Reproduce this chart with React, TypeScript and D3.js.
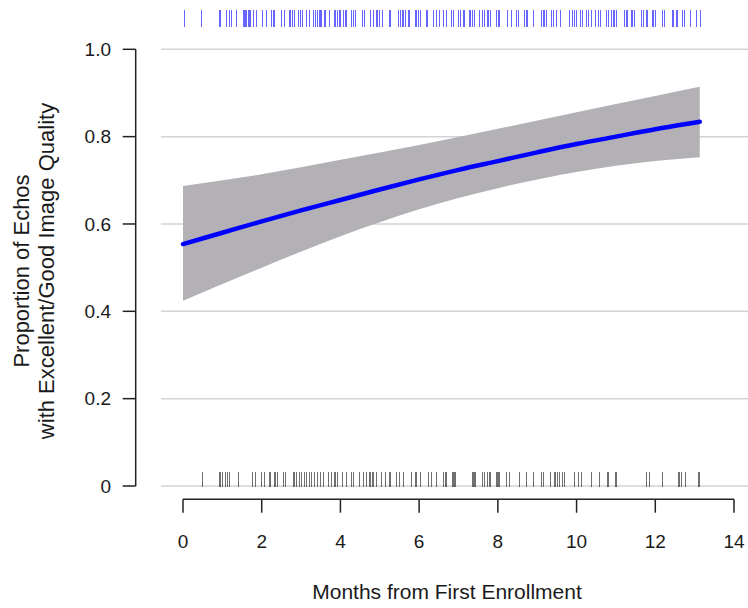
import React from 'react';
import * as d3 from 'd3';

// fitted proportion
const fitMonths = [0, 1, 2, 3, 4, 5, 6, 7, 8, 9, 10, 11, 12, 13.13];
const fitValues = [0.554, 0.58, 0.606, 0.631, 0.655, 0.679, 0.702, 0.724, 0.744, 0.764, 0.783, 0.8, 0.817, 0.834];

// confidence band
const bandMonths = [0, 2, 4, 6, 8, 10, 12, 13.13];
const bandUpper = [0.687, 0.714, 0.747, 0.781, 0.818, 0.856, 0.893, 0.914];
const bandLower = [0.424, 0.5, 0.572, 0.634, 0.682, 0.719, 0.744, 0.753];

// rug: echos with excellent/good quality (top) and not (bottom)
const goodMonths = [
  0.03, 0.46, 0.94, 1.11, 1.18, 1.24, 1.36, 1.55, 1.6, 1.66, 1.7, 1.79, 1.87, 2.02, 2.13, 2.25, 2.31,
  2.51, 2.57, 2.72, 2.79, 2.84, 2.93, 2.99, 3.04, 3.14, 3.21, 3.31, 3.37, 3.42, 3.48, 3.52, 3.61, 3.72,
  3.86, 3.92, 3.99, 4.07, 4.14, 4.28, 4.34, 4.39, 4.56, 4.62, 4.77, 4.85, 4.93, 5.0, 5.07, 5.26, 5.47,
  5.53, 5.59, 5.66, 5.72, 5.76, 5.92, 5.98, 6.04, 6.2, 6.37, 6.44, 6.51, 6.61, 6.7, 6.82, 6.88, 6.99,
  7.05, 7.14, 7.29, 7.36, 7.4, 7.54, 7.61, 7.67, 7.75, 7.81, 7.97, 8.03, 8.24, 8.35, 8.47, 8.52, 8.68,
  8.74, 8.9, 9.11, 9.17, 9.23, 9.36, 9.42, 9.49, 9.59, 9.83, 9.9, 9.95, 10.0, 10.1, 10.16, 10.25, 10.31,
  10.38, 10.49, 10.55, 10.61, 10.76, 10.82, 10.89, 10.95, 11.01, 11.22, 11.28, 11.41, 11.48, 11.65,
  11.71, 11.79, 11.94, 12.01, 12.18, 12.24, 12.45, 12.55, 12.69, 12.75, 12.89, 13.04, 13.15,
];
const poorMonths = [
  0.49, 0.94, 1.0, 1.07, 1.13, 1.19, 1.4, 1.77, 1.85, 2.0, 2.08, 2.21, 2.34, 2.4, 2.55, 2.61, 2.82,
  2.89, 2.95, 3.01, 3.08, 3.14, 3.21, 3.27, 3.35, 3.41, 3.5, 3.58, 3.69, 3.78, 3.86, 3.92, 4.06, 4.16,
  4.28, 4.34, 4.48, 4.58, 4.66, 4.75, 4.83, 4.92, 5.05, 5.15, 5.26, 5.43, 5.51, 5.61, 5.81, 5.92, 6.04,
  6.23, 6.32, 6.44, 6.61, 6.68, 6.86, 6.91, 7.37, 7.42, 7.61, 7.67, 7.73, 7.8, 7.98, 8.03, 8.22, 8.3,
  8.56, 8.73, 8.91, 9.11, 9.15, 9.34, 9.45, 9.51, 9.57, 9.64, 9.7, 9.95, 10.04, 10.12, 10.38, 10.59,
  10.8, 11.0, 11.77, 11.86, 12.18, 12.6, 12.66, 12.77, 13.11,
];

const xTicks = [0, 2, 4, 6, 8, 10, 12, 14];
const yTicks = [0, 0.2, 0.4, 0.6, 0.8, 1.0];
const yTickLabels = ['0', '0.2', '0.4', '0.6', '0.8', '1.0'];

const W = 748;
const H = 608;
const font = '"Liberation Sans", Arial, sans-serif';

export default function App() {
  const x = d3.scaleLinear().domain([0, 14]).range([183, 734]);
  const y = d3.scaleLinear().domain([0, 1]).range([486, 49.3]);

  const band = d3
    .area<number>()
    .x((_, i) => x(bandMonths[i]))
    .y0((_, i) => y(bandLower[i]))
    .y1((_, i) => y(bandUpper[i]))
    .curve(d3.curveMonotoneX);

  const line = d3
    .line<number>()
    .x((_, i) => x(fitMonths[i]))
    .y((d) => y(d))
    .curve(d3.curveMonotoneX);

  const axisY = 499.3;
  const yAxisX = 135.7;

  return (
    <svg width={W} height={H} style={{ position: 'absolute', left: 0, top: 0 }} fontFamily={font}>
      {/* gridlines */}
      {yTicks.map((t) => (
        <line key={'g' + t} x1={x(-0.56)} x2={W} y1={y(t)} y2={y(t)} stroke="#d3d3d3" strokeWidth={1.5} />
      ))}

      <path d={band(bandMonths) || ''} fill="#b3b1b5" />
      <path d={line(fitValues) || ''} fill="none" stroke="#0000ff" strokeWidth={4.5} strokeLinecap="round" />

      {/* rugs */}
      <g shapeRendering="crispEdges">
        {goodMonths.map((m, i) => (
          <line key={'u' + i} x1={x(m)} x2={x(m)} y1={10} y2={26.7} stroke="#0000ff" strokeOpacity={0.6} strokeWidth={1.2} />
        ))}
        {poorMonths.map((m, i) => (
          <line key={'p' + i} x1={x(m)} x2={x(m)} y1={471.7} y2={487} stroke="#111" strokeOpacity={0.6} strokeWidth={1.2} />
        ))}
      </g>

      {/* y axis */}
      <line x1={yAxisX} x2={yAxisX} y1={y(1)} y2={y(0)} stroke="#222" strokeWidth={1.5} />
      {yTicks.map((t, i) => (
        <g key={'y' + t}>
          <line x1={122.7} x2={yAxisX} y1={y(t)} y2={y(t)} stroke="#222" strokeWidth={1.5} />
          <text x={111} y={y(t)} dy="0.35em" textAnchor="end" fontSize={19} fill="#1a1a1a">
            {yTickLabels[i]}
          </text>
        </g>
      ))}

      {/* x axis */}
      <line x1={x(0)} x2={x(14)} y1={axisY} y2={axisY} stroke="#222" strokeWidth={1.5} />
      {xTicks.map((t) => (
        <g key={'x' + t}>
          <line x1={x(t)} x2={x(t)} y1={axisY} y2={512.7} stroke="#222" strokeWidth={1.5} />
          <text x={x(t)} y={548} textAnchor="middle" fontSize={19} fill="#1a1a1a">
            {t}
          </text>
        </g>
      ))}

      <text x={447} y={599} textAnchor="middle" fontSize={21} fill="#1a1a1a">
        Months from First Enrollment
      </text>

      <g transform="translate(29,271) rotate(-90)">
        <text x={0} y={0} textAnchor="middle" fontSize={22} fill="#1a1a1a">
          Proportion of Echos
        </text>
        <text x={0} y={25} textAnchor="middle" fontSize={22} fill="#1a1a1a">
          with Excellent/Good Image Quality
        </text>
      </g>
    </svg>
  );
}
